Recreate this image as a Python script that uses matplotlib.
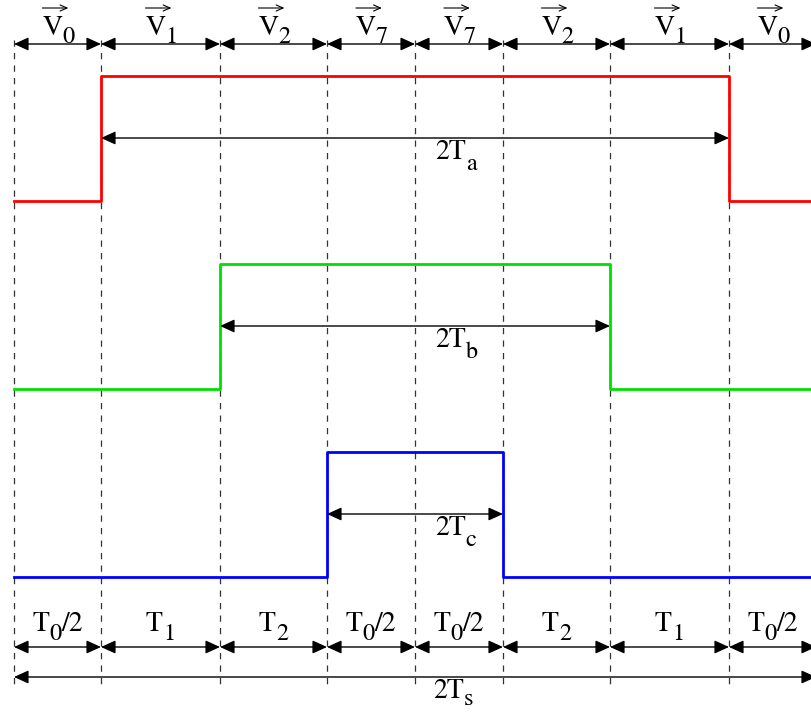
import numpy as np
import matplotlib.pyplot as plt

plt.rcParams['font.family'] = 'STIXGeneral'

# sequence of vectors in one switching period and their durations
vectors = ['0', '1', '2', '7', '7', '2', '1', '0']
dur_subs = ['0', '1', '2', '0', '0', '2', '1', '0']
dur_half = [True, False, False, True, True, False, False, True]
durations = [87, 119, 107, 88, 88, 107, 119, 87]

# phase switching states (1 = high) per segment
phase_a = [0, 1, 1, 1, 1, 1, 1, 0]
phase_b = [0, 0, 1, 1, 1, 1, 0, 0]
phase_c = [0, 0, 0, 1, 1, 0, 0, 0]
phase_names = ['a', 'b', 'c']
phase_colors = ['#ff0000', '#00e000', '#0000ff']

edges = np.concatenate([[0], np.cumsum(durations)])

fig = plt.figure(figsize=(8.12, 7.13), dpi=100)
ax = fig.add_axes([0, 0, 1, 1])
ax.set_xlim(-14, 798)
ax.set_ylim(713, 0)
ax.axis('off')
rend = fig.canvas.get_renderer()

MAIN = 20
SUB = 17.5
DROP = 9


def label(x, yb, parts, align='center'):
    """lay out (text, size, drop) pieces on a baseline; return left x and width of first piece"""
    txts, widths = [], []
    for s, fs, dy in parts:
        t = ax.text(0, yb + dy, s, fontsize=fs, ha='left', va='baseline')
        w = t.get_window_extent(rend).width
        txts.append(t)
        widths.append(w)
    total = sum(widths)
    x0 = x - total / 2 if align == 'center' else x
    cur = x0
    for t, w in zip(txts, widths):
        t.set_x(cur)
        cur += w
    return x0, widths[0]


def darrow(x0, x1, y):
    ax.annotate('', xy=(x1, y), xytext=(x0, y), annotation_clip=False,
                arrowprops=dict(arrowstyle='<|-|>,head_length=0.55,head_width=0.25',
                                color='black', lw=1.0,
                                mutation_scale=16, shrinkA=0, shrinkB=0),
                zorder=4)


# dashed guide lines
for x in edges:
    ax.plot([x, x], [40, 686], color='#333333', lw=0.9, ls=(0, (5, 5)), zorder=1)

# top vector labels
for i, v in enumerate(vectors):
    darrow(edges[i], edges[i + 1], 44)
    xl, wv = label((edges[i] + edges[i + 1]) / 2 + 1, 35,
                   [('V', MAIN, 0), (v, SUB, DROP - 1)])
    ax.annotate('', xy=(xl + wv + 6, 8), xytext=(xl, 8), annotation_clip=False,
                arrowprops=dict(arrowstyle='->,head_length=0.5,head_width=0.22',
                                color='black', lw=0.8, mutation_scale=10,
                                shrinkA=0, shrinkB=0))

# waveforms
lows = [201, 389, 577]
amp = 125
for k, st in enumerate([phase_a, phase_b, phase_c]):
    st = np.array(st)
    ys = lows[k] - amp * np.append(st, st[-1])
    ax.step(edges, ys, where='post', color=phase_colors[k], lw=2.0, zorder=3)
    on = np.where(st == 1)[0]
    x0, x1 = edges[on[0]], edges[on[-1] + 1]
    ya = lows[k] - 63
    darrow(x0, x1, ya)
    label(421, ya + 21, [('2T', MAIN, 0), (phase_names[k], SUB, DROP + 2)], align='left')

# bottom duration labels
for i in range(len(durations)):
    darrow(edges[i], edges[i + 1], 647)
    parts = [('T', MAIN, 0), (dur_subs[i], SUB, DROP)]
    if dur_half[i]:
        parts.append(('/2', MAIN, 0))
    label((edges[i] + edges[i + 1]) / 2, 631, parts)

darrow(edges[0], edges[-1], 677)
label(419, 698, [('2T', MAIN, 0), ('s', SUB, DROP - 2)], align='left')

plt.savefig('out.png', dpi=100)
